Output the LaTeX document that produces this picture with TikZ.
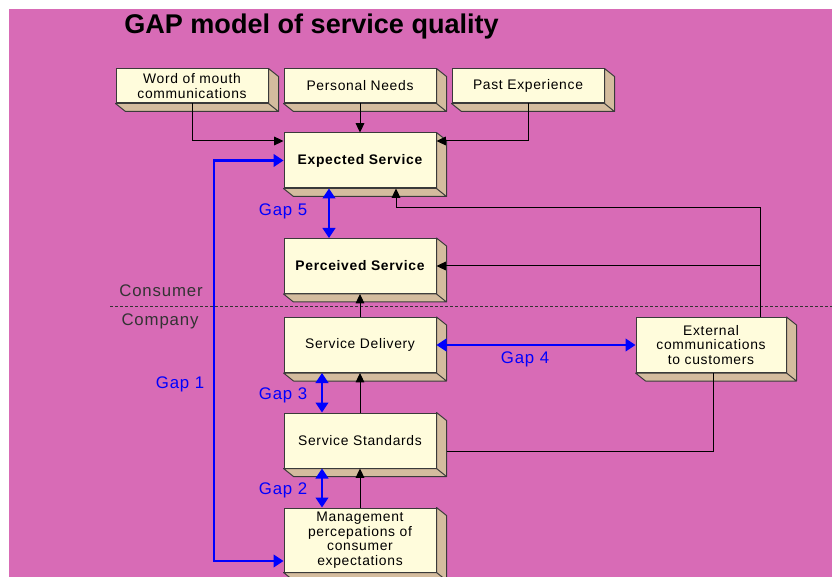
\documentclass[tikz,border=0pt]{standalone}
\usepackage{fontspec}
\setmainfont{Liberation Sans}
\newfontfamily\boxfont[LetterSpace=5]{Liberation Sans}
\usetikzlibrary{arrows.meta}

\def\mypx{0.75pt}
\definecolor{mypink}{HTML}{D86BB6}
\definecolor{mycream}{HTML}{FFFCDC}
\definecolor{mytan}{HTML}{D4BC9E}
\definecolor{myedge}{HTML}{3A3A3A}
\definecolor{myblue}{HTML}{0000FF}

\begin{document}
\begin{tikzpicture}[x=\mypx, y=-\mypx,
  slab/.style = {draw=myedge, line width=0.75pt, fill=mycream, inner sep=0pt, align=center,
      minimum width=152*\mypx, minimum height=55*\mypx, font=\boxfont\fontsize{10.4}{10.9}\selectfont},
  slabside/.style = {draw=myedge, line width=0.75pt, fill=mytan, line join=round},
  flow/.style = {draw=black, line width=0.75pt, -{Triangle[length=7pt,width=6.5pt]}},
  plain/.style = {draw=black, line width=0.75pt},
  gap/.style = {draw=myblue, line width=1.7pt, {Triangle[length=7.5pt,width=9.5pt]}-{Triangle[length=7.5pt,width=9.5pt]}},
  gaplabel/.style = {text=myblue, inner sep=0pt, font=\boxfont\fontsize{12.6}{14}\selectfont},
  sidelabel/.style = {text=black!80, inner sep=0pt, font=\boxfont\fontsize{12.6}{14}\selectfont}]

\useasboundingbox (0,0) rectangle (832,577);
\fill[mypink] (9,9) rectangle (832,577);

\node[anchor=west, inner sep=0pt, font=\bfseries\fontsize{20.3}{24}\selectfont] (title) at (124,27) {GAP model of service quality};

% consumer / company split
\draw[black!80, line width=0.75pt, dash pattern=on 2.25pt off 1.5pt] (110,307) -- (832,307);
\node[sidelabel] (consumer) at (161,291) {Consumer};
\node[sidelabel] (company) at (160,321) {Company};

% boxes
\node[slab, minimum height=34*\mypx] (wom) at (192,86) {Word of mouth\\communications};
\node[slab, minimum height=34*\mypx] (needs) at (360,86) {Personal Needs};
\node[slab, minimum height=34*\mypx] (past) at (528,86) {Past Experience};
\node[slab] (expected) at (360,160.5) {\bfseries Expected Service};
\node[slab] (perceived) at (360,266) {\bfseries Perceived Service};
\node[slab] (delivery) at (360,345) {Service Delivery};
\node[slab, minimum width=150*\mypx] (extcomm) at (711,345) {External\\communications\\to customers};
\node[slab] (standards) at (360,440.5) {Service Standards};
\node[slab, minimum height=64*\mypx] (mgmt) at (360,540) {Management\\percepations of\\consumer\\expectations};

% 3d sides
\foreach \n in {wom,needs,past,expected,perceived,delivery,extcomm,standards,mgmt}
{
  \draw[slabside] (\n.north east) -- ++(10,8) -- ([shift={(10,8)}]\n.south east)
     -- ([shift={(10,8)}]\n.south west) -- (\n.south west) -- (\n.south east) -- cycle
     (\n.south east) -- ++(10,8);
}

\coordinate (inrow) at (0,141);
\coordinate (gapx) at (214,0);
\coordinate (lowrow) at (0,561);
\coordinate (fivex) at (329,0);
\coordinate (twox) at (322,0);
\coordinate (fbx) at (760,208);
\coordinate (fbin) at (396,0);
\coordinate (stdlink) at (713,451);

% inputs to expected service
\draw[flow] (wom.south) |- (inrow -| expected.west); %wom to expected
\draw[flow] (needs.south) -- (expected.north); %needs to expected
\draw[flow] (past.south) |- (inrow -| expected.east); %past to expected

% company chain
\draw[flow] (delivery.north) -- (perceived.south);
\draw[flow] (standards.north) -- (delivery.south);
\draw[flow] (mgmt.north) -- (standards.south);

% external communications
\draw[flow] (extcomm.north -| fbx) |- (perceived.east);
\draw[flow] (perceived.east -| fbx) -- (fbx) -| (fbin |- expected.south);
\draw[plain] (extcomm.south -| stdlink) -- (stdlink) -- ([xshift=7.5pt]stdlink -| standards.east);

% gaps
\draw[gap] (expected.west) -| (gapx |- lowrow) -- (lowrow -| mgmt.west); %gap 1
\draw[gap] (standards.south -| twox) -- (mgmt.north -| twox); %gap 2
\draw[gap] (delivery.south -| twox) -- (standards.north -| twox); %gap 3
\draw[gap] (delivery.east) -- (extcomm.west); %gap 4
\draw[gap] (expected.south -| fivex) -- (perceived.north -| fivex); %gap 5

\node[gaplabel] (gapone) at (180,384) {Gap 1};
\node[gaplabel] (gaptwo) at (283,490) {Gap 2};
\node[gaplabel] (gapthree) at (283,395) {Gap 3};
\node[gaplabel] (gapfour) at (525,359) {Gap 4};
\node[gaplabel] (gapfive) at (283,211) {Gap 5};
\end{tikzpicture}
\end{document}
